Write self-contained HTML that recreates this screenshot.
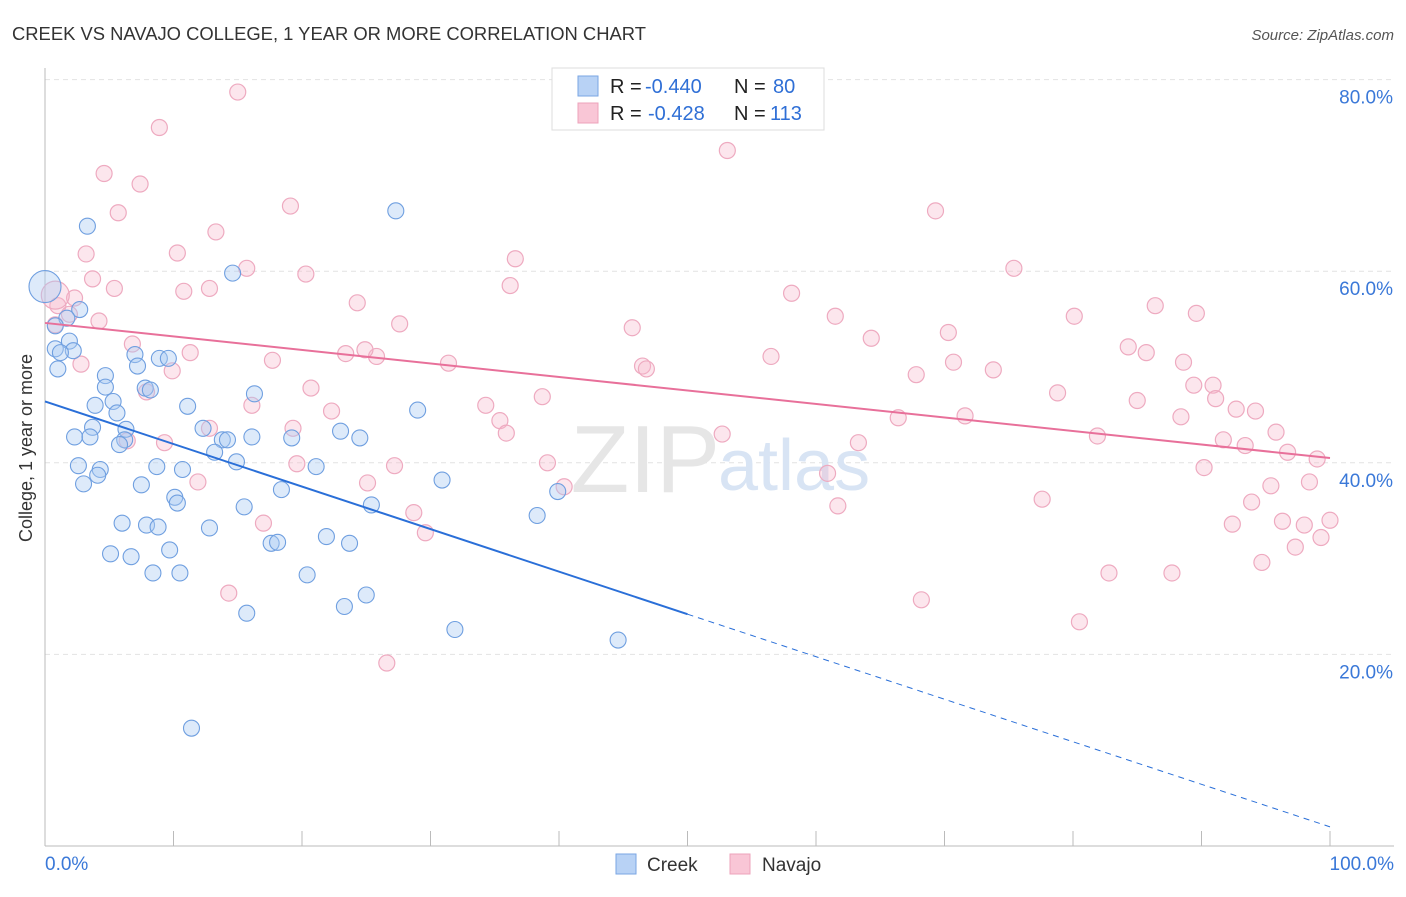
<!DOCTYPE html>
<html><head><meta charset="utf-8">
<style>
body{margin:0;background:#fff;font-family:"Liberation Sans",sans-serif;}
svg text{font-family:"Liberation Sans",sans-serif;}
</style></head>
<body>
<svg id="chart" width="1406" height="892" xmlns="http://www.w3.org/2000/svg">
<text x="12" y="40" font-size="18.4" fill="#333">CREEK VS NAVAJO COLLEGE, 1 YEAR OR MORE CORRELATION CHART</text>
<text x="1394" y="40" font-size="15" fill="#555" font-style="italic" text-anchor="end">Source: ZipAtlas.com</text>
<text x="42" y="458" font-size="18" fill="#333" text-anchor="middle" transform="rotate(-90 32 458)">College, 1 year or more</text>
<g id="grid"></g>
<text x="720" y="492" font-size="96" fill="#e6e6e6" text-anchor="end" font-family="Liberation Serif">ZIP</text>
<text x="718" y="490" font-size="72" fill="#d8e4f4">atlas</text>
<g id="axes"></g>
<g id="pts"></g>
<g id="lines"></g>
<g>
<rect x="552" y="68" width="272" height="62" fill="#fff" stroke="#ddd"/>
<rect x="578" y="76" width="20" height="20" fill="#b8d2f5" stroke="#7aa6e3"/>
<rect x="578" y="103" width="20" height="20" fill="#f9c6d6" stroke="#eda3bb"/>
<text x="610" y="93" font-size="20" fill="#222">R =</text>
<text x="645" y="93" font-size="20" fill="#2f6fd6">-0.440</text>
<text x="734" y="93" font-size="20" fill="#222">N =</text>
<text x="773" y="93" font-size="20" fill="#2f6fd6">80</text>
<text x="610" y="120" font-size="20" fill="#222">R =</text>
<text x="648" y="120" font-size="20" fill="#2f6fd6">-0.428</text>
<text x="734" y="120" font-size="20" fill="#222">N =</text>
<text x="770" y="120" font-size="20" fill="#2f6fd6">113</text>
</g>
<g>
<rect x="616" y="854" width="20" height="20" fill="#b8d2f5" stroke="#7aa6e3"/>
<text x="647" y="871" font-size="19" fill="#333">Creek</text>
<rect x="730" y="854" width="20" height="20" fill="#f9c6d6" stroke="#eda3bb"/>
<text x="762" y="871" font-size="19" fill="#333">Navajo</text>
</g>
</svg>
<script>
const yTicks=[20,40,60,80];
const yTickLabels=["20.0%","40.0%","60.0%","80.0%"];
const xTicks=[0,10,20,30,40,50,60,70,80,90,100];
const creekX=[0,3.3,27.3,14.6,2.7,1.7,0.8,1.9,0.8,2.2,1.2,1.0,7.0,8.9,9.6,7.2,4.7,4.7,7.8,8.2,3.9,5.3,5.6,11.1,16.3,29.0,3.7,6.3,6.2,2.3,3.5,5.8,12.3,13.8,14.2,13.2,16.1,14.9,19.2,23.0,24.5,2.6,4.3,4.1,8.7,10.7,21.1,3.0,7.5,30.9,10.1,10.3,18.4,39.9,15.5,25.4,6.0,7.9,8.8,12.8,38.3,21.9,23.7,17.6,18.1,5.1,6.7,9.7,8.4,10.5,20.4,25.0,23.3,15.7,31.9,44.6,11.4];
const creekY=[58.4,64.7,66.3,59.8,56.0,55.1,54.3,52.7,51.9,51.7,51.5,49.8,51.3,50.9,50.9,50.1,49.1,47.9,47.8,47.6,46.0,46.4,45.2,45.9,47.2,45.5,43.7,43.5,42.4,42.7,42.7,41.9,43.6,42.4,42.4,41.1,42.7,40.1,42.6,43.3,42.6,39.7,39.3,38.7,39.6,39.3,39.6,37.8,37.7,38.2,36.4,35.8,37.2,37.0,35.4,35.6,33.7,33.5,33.3,33.2,34.5,32.3,31.6,31.6,31.7,30.5,30.2,30.9,28.5,28.5,28.3,26.2,25.0,24.3,22.6,21.5,12.3];
const navX=[15.0,8.9,53.1,4.6,7.4,5.7,19.1,69.3,13.3,3.2,10.3,36.6,15.7,20.3,75.4,3.7,5.4,10.8,12.8,36.2,58.1,2.3,24.3,1.0,1.9,86.4,89.6,4.2,61.5,80.1,27.6,45.7,70.3,64.3,0.8,84.3,85.7,6.8,11.3,23.4,25.8,24.9,31.4,56.5,70.7,88.6,17.7,2.8,46.5,46.8,9.9,73.8,67.8,89.4,90.9,7.9,20.7,78.8,85.0,38.7,91.1,16.1,34.3,66.4,92.7,94.2,22.3,71.6,88.4,35.4,35.9,52.7,12.8,19.3,6.4,9.3,95.8,81.9,91.7,63.3,93.4,96.7,99.0,19.6,27.2,39.1,90.2,60.9,11.9,25.1,40.4,95.4,98.4,77.6,93.9,61.7,28.7,29.6,17.0,92.4,96.3,98.0,100.0,99.3,97.3,94.7,82.8,87.7,14.3,68.2,80.5,26.6,0.8];
const navY=[78.7,75.0,72.6,70.2,69.1,66.1,66.8,66.3,64.1,61.8,61.9,61.3,60.3,59.7,60.3,59.2,58.2,57.9,58.2,58.5,57.7,57.2,56.7,56.4,55.5,56.4,55.6,54.8,55.3,55.3,54.5,54.1,53.6,53.0,54.4,52.1,51.5,52.4,51.5,51.4,51.1,51.8,50.4,51.1,50.5,50.5,50.7,50.3,50.1,49.8,49.6,49.7,49.2,48.1,48.1,47.4,47.8,47.3,46.5,46.9,46.7,46.0,46.0,44.7,45.6,45.4,45.4,44.9,44.8,44.4,43.1,43.0,43.6,43.6,42.3,42.1,43.2,42.8,42.4,42.1,41.8,41.1,40.4,39.9,39.7,40.0,39.5,38.9,38.0,37.9,37.5,37.6,38.0,36.2,35.9,35.5,34.8,32.7,33.7,33.6,33.9,33.5,34.0,32.2,31.2,29.6,28.5,28.5,26.4,25.7,23.4,19.1,57.5];
const creekFit=[46.4,-0.444];
const navFit=[54.6,-0.141];

const NS="http://www.w3.org/2000/svg";
const X=v=>45+v*12.85, Y=v=>846-v*9.58;
function mk(tag,attrs,parent){const e=document.createElementNS(NS,tag);for(const k in attrs)e.setAttribute(k,attrs[k]);parent.appendChild(e);return e;}
const grid=document.getElementById('grid'),axes=document.getElementById('axes'),pts=document.getElementById('pts'),lines=document.getElementById('lines');
yTicks.forEach((t,i)=>{
  const l=mk('line',{x1:45,x2:1394,y1:Y(t),y2:Y(t),stroke:'#e2e2e2','stroke-dasharray':'5,4'},grid);
  
  
  const tx=mk('text',{x:1393,y:Y(t)+24,'font-size':19,fill:'#3a78d8','text-anchor':'end'},axes);
  tx.textContent=yTickLabels[i];
  
  
});
const ax=mk('line',{x1:45,x2:1394,y1:846,y2:846,stroke:'#bbb'},axes);


const ay=mk('line',{x1:45,x2:45,y1:68,y2:846,stroke:'#bbb'},axes);


xTicks.forEach(t=>{
  const l=mk('line',{x1:X(t),x2:X(t),y1:831,y2:846,stroke:'#bbb'},axes);
  
  
});
const x0=mk('text',{x:45,y:870,'font-size':19,fill:'#3a78d8'},axes);x0.textContent='0.0%';


const x1=mk('text',{x:1394,y:870,'font-size':19,fill:'#3a78d8','text-anchor':'end'},axes);x1.textContent='100.0%';


navX.forEach((v,i)=>{
  const c=mk('circle',{cx:X(v),cy:Y(navY[i]),r:i===navX.length-1?14:8,fill:'rgba(247,182,203,0.35)',stroke:'#eeaac0','stroke-width':1.2},pts);
  
  
});
creekX.forEach((v,i)=>{
  const c=mk('circle',{cx:X(v),cy:Y(creekY[i]),r:i===0?16:8,fill:'rgba(170,202,242,0.4)',stroke:'#6f9fe0','stroke-width':1.1},pts);
  
  
});
const f=(fit,x)=>fit[0]+fit[1]*x;
const cl=mk('line',{x1:X(0),y1:Y(f(creekFit,0)),x2:X(50),y2:Y(f(creekFit,50)),stroke:'#2a6fd8','stroke-width':2},lines);


const cd=mk('line',{x1:X(50),y1:Y(f(creekFit,50)),x2:X(100),y2:Y(f(creekFit,100)),stroke:'#2a6fd8','stroke-width':1,'stroke-dasharray':'6,5'},lines);


const nl=mk('line',{x1:X(0),y1:Y(f(navFit,0)),x2:X(100),y2:Y(f(navFit,100)),stroke:'#e8709a','stroke-width':2},lines);


</script>
</body></html>
